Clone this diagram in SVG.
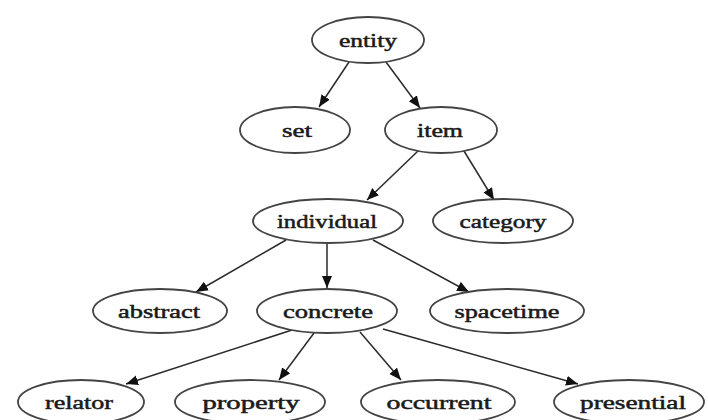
<svg xmlns="http://www.w3.org/2000/svg" width="708" height="420" viewBox="0 0 708 420">
<style>
.n ellipse{fill:#fff;stroke:#444;stroke-width:1.8}
.n text{font-family:"Liberation Serif","Times New Roman",serif;font-size:19px;fill:#1a1a1a;stroke:#1a1a1a;stroke-width:0.5;text-anchor:middle;dominant-baseline:central}
.e path{fill:none;stroke:#2a2a2a;stroke-width:1.5}
</style>
<defs>
<marker id="ah" markerUnits="userSpaceOnUse" markerWidth="13" markerHeight="11" refX="12" refY="5" orient="auto">
<path d="M0,0 L12,5 L0,10 z" fill="#111"/>
</marker>
</defs>
<rect width="708" height="420" fill="#fff"/>
<g id="connectors" class="e">
<path d="M349,62 L319,107" marker-end="url(#ah)"/>
<path d="M386,62 L420,108" marker-end="url(#ah)"/>
<path d="M418,151 L367,200" marker-end="url(#ah)"/>
<path d="M464,151 L494,200" marker-end="url(#ah)"/>
<path d="M286,240 L196,292" marker-end="url(#ah)"/>
<path d="M327,243 L327,288" marker-end="url(#ah)"/>
<path d="M373,240 L469,292" marker-end="url(#ah)"/>
<path d="M292,330 L126,384" marker-end="url(#ah)"/>
<path d="M314,333 L279,380" marker-end="url(#ah)"/>
<path d="M360,332 L401,380" marker-end="url(#ah)"/>
<path d="M383,329 L578,384" marker-end="url(#ah)"/>
</g>
<g id="entity" class="n"><ellipse cx="368" cy="40" rx="56" ry="23"/><text x="368" y="40" textLength="58" lengthAdjust="spacingAndGlyphs">entity</text></g>
<g id="set" class="n"><ellipse cx="295" cy="130" rx="55" ry="23"/><text x="297" y="130" textLength="30" lengthAdjust="spacingAndGlyphs">set</text></g>
<g id="item" class="n"><ellipse cx="441" cy="130" rx="56" ry="23"/><text x="440" y="130" textLength="46" lengthAdjust="spacingAndGlyphs">item</text></g>
<g id="individual" class="n"><ellipse cx="328" cy="221" rx="75" ry="22"/><text x="327" y="221" textLength="100" lengthAdjust="spacingAndGlyphs">individual</text></g>
<g id="category" class="n"><ellipse cx="503" cy="221" rx="70" ry="22"/><text x="503" y="221" textLength="87" lengthAdjust="spacingAndGlyphs">category</text></g>
<g id="abstract" class="n"><ellipse cx="160" cy="311" rx="67" ry="22"/><text x="159" y="311" textLength="82" lengthAdjust="spacingAndGlyphs">abstract</text></g>
<g id="concrete" class="n"><ellipse cx="327" cy="311" rx="70" ry="22"/><text x="328" y="311" textLength="90" lengthAdjust="spacingAndGlyphs">concrete</text></g>
<g id="spacetime" class="n"><ellipse cx="507" cy="311" rx="77" ry="22"/><text x="507" y="311" textLength="105" lengthAdjust="spacingAndGlyphs">spacetime</text></g>
<g id="relator" class="n"><ellipse cx="81" cy="402" rx="63" ry="22"/><text x="79" y="402" textLength="68" lengthAdjust="spacingAndGlyphs">relator</text></g>
<g id="property" class="n"><ellipse cx="250" cy="402" rx="75" ry="22"/><text x="251" y="402" textLength="97" lengthAdjust="spacingAndGlyphs">property</text></g>
<g id="occurrent" class="n"><ellipse cx="438" cy="402" rx="77" ry="22"/><text x="439" y="402" textLength="105" lengthAdjust="spacingAndGlyphs">occurrent</text></g>
<g id="presential" class="n"><ellipse cx="629" cy="402" rx="75" ry="22"/><text x="633" y="402" textLength="106" lengthAdjust="spacingAndGlyphs">presential</text></g>
</svg>
